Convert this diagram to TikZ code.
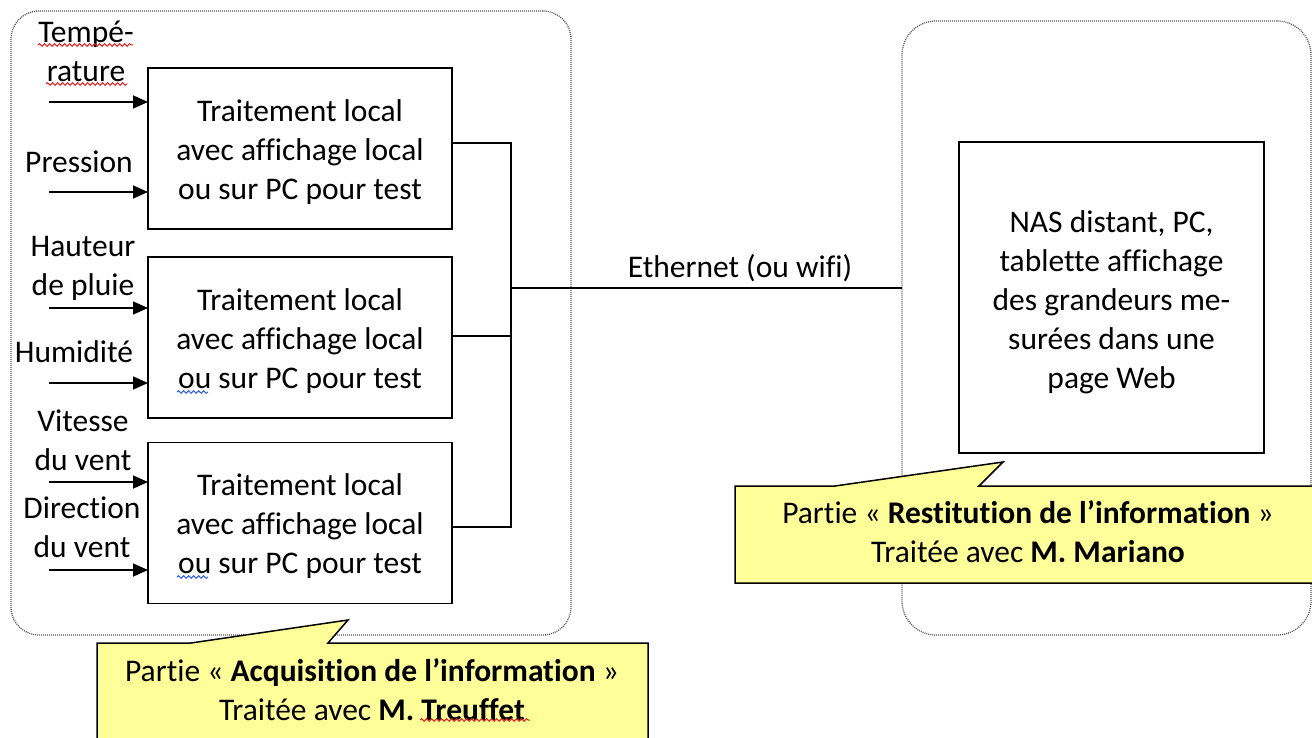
\documentclass[tikz,border=0pt]{standalone}
\usepackage{fontspec}
\setmainfont{Carlito}[Ligatures={NoCommon}]
\usetikzlibrary{arrows.meta,decorations.pathmorphing}
\definecolor{calloutfill}{HTML}{FFFF99}
\definecolor{spellred}{HTML}{E02020}
\definecolor{spellblue}{HTML}{3060E0}
\tikzset{
  body/.style={font=\fontsize{31.5}{39}\selectfont},
  txt/.style={body, align=center, inner sep=0pt, outer sep=0pt},
  procbox/.style={draw, line width=1.6pt, minimum width=304pt, minimum height=161pt,
                  inner sep=0pt, outer sep=0pt},
  inside/.style={txt, yshift=-3.5pt},
  grp/.style={draw=black!65, line width=1.3pt, dash pattern=on 1pt off 1pt,
              rounded corners=28pt, inner sep=0pt, outer sep=0pt},
  feed/.style={line width=1.7pt, -{Triangle[length=15pt,width=13pt]}},
  wire/.style={line width=1.4pt},
  bubble/.style={draw, line width=1.5pt, fill=calloutfill, line join=miter},
  squig/.style={decorate, decoration={snake, amplitude=1.3pt, segment length=5pt}, line width=1pt}
}
\begin{document}
\begin{tikzpicture}[x=1pt,y=-1pt]
\clip (0,0) rectangle (1312,738);
\fill[white] (0,0) rectangle (1312,738);

% dotted group frames
\node[grp, minimum width=560pt, minimum height=624pt] (grpL) at (291,323) {};
\node[grp, minimum width=409pt, minimum height=614pt, rounded corners=34pt] (grpR) at (1106.5,328) {};

% local processing boxes
\node[procbox, label={[inside]center:{Traitement local\\avec affichage local\\ou sur PC pour test}}] (b1) at (300,148.5) {};
\node[procbox, label={[inside]center:{Traitement local\\avec affichage local\\ou sur PC pour test}}] (b2) at (300,337.5) {};
\node[procbox, label={[inside]center:{Traitement local\\avec affichage local\\ou sur PC pour test}}] (b3) at (300,523) {};

% remote display box
\node[procbox, minimum width=305pt, minimum height=311pt,
  label={[inside, yshift=-1pt]center:{NAS distant, PC,\\tablette affichage\\des grandeurs me-\\surées dans une\\page Web}}] (nas) at (1111.5,297.5) {};

% sensor labels
\node[txt] (tT) at (86,51) {Tempé-\\rature};
\node[txt] (tP) at (79,162) {Pression};
\node[txt] (tH) at (83,268) {Hauteur\\de pluie};
\node[txt] (tU) at (74,352) {Humidité};
\node[txt] (tV) at (83,440) {Vitesse\\du vent};
\node[txt] (tD) at (82,527) {Direction\\du vent};

% sensor inputs
\coordinate (i1) at (49,102);
\coordinate (i2) at (49,192);
\coordinate (i3) at (49,308);
\coordinate (i4) at (49,383);
\coordinate (i5) at (49,482);
\coordinate (i6) at (49,570);
\draw[feed] (i1) -- (i1 -| b1.west);
\draw[feed] (i2) -- (i2 -| b1.west);
\draw[feed] (i3) -- (i3 -| b2.west);
\draw[feed] (i4) -- (i4 -| b2.west);
\draw[feed] (i5) -- (i5 -| b3.west);
\draw[feed] (i6) -- (i6 -| b3.west);

% network bus
\coordinate (j1) at (511,143);
\coordinate (j2) at (511,336);
\coordinate (j3) at (511,527);
\coordinate (jn) at (511,288);
\draw[wire] (b1.east |- j1) -- (j1) -- (j3) -- (b3.east |- j3);
\draw[wire] (b2.east |- j2) -- (j2);
\draw[wire] (jn) -- (jn -| grpR.west);
\node[txt] (eth) at (740,268) {Ethernet (ou wifi)};

% spelling marks
\draw[squig, spellred] (38,45) -- (133,45);
\draw[squig, spellred] (46,84) -- (127,84);
\draw[squig, spellblue] (177,392) -- (208,392);
\draw[squig, spellblue] (177,577) -- (208,577);

% callouts
\draw[bubble] (97,643) -- (191,643) -- (348,620) -- (328,643) -- (648,643)
  -- (648,760) -- (97,760) -- cycle;
\node[txt] (c1) at (372,689.5) {Partie « \textbf{Acquisition de l’information} »\\Traitée avec \textbf{M. Treuffet}};
\draw[squig, spellred] (420,720) -- (530,720);

\draw[bubble] (735,486) -- (835,486) -- (1003,462) -- (979,486) -- (1330,486)
  -- (1330,583) -- (735,583) -- cycle;
\node[txt] (c2) at (1028,532) {Partie « \textbf{Restitution de l’information} »\\Traitée avec \textbf{M. Mariano}};
\end{tikzpicture}
\end{document}
